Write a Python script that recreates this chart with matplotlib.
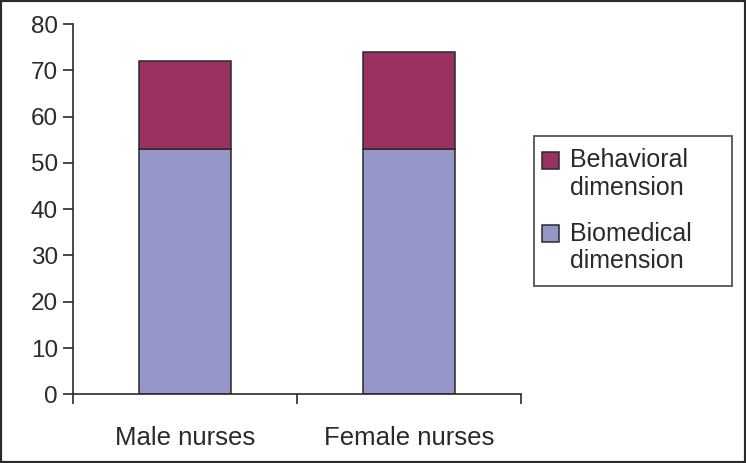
import matplotlib
matplotlib.use("Agg")
import matplotlib.pyplot as plt
from matplotlib.patches import Patch, Rectangle
from matplotlib.legend_handler import HandlerBase

plt.rcParams['font.family'] = ['Liberation Sans', 'DejaVu Sans']

categories = ["Male nurses", "Female nurses"]
biomedical = [53, 53]
behavioral = [19, 21]
series_names = ["Behavioral\ndimension", "Biomedical\ndimension"]
yticks = [0, 10, 20, 30, 40, 50, 60, 70, 80]

c_beh = "#9a3163"
c_bio = "#9497c8"
ink = "#2a2a2a"

W, H = 746, 463
fig = plt.figure(figsize=(W / 100, H / 100), dpi=100)
ax = fig.add_axes([73.3 / W, (H - 394.3) / H, (521 - 73.3) / W, (394.3 - 24) / H])

x = list(range(len(categories)))
ax.bar(x, biomedical, width=0.41, color=c_bio, edgecolor=ink, linewidth=1.1)
ax.bar(x, behavioral, bottom=biomedical, width=0.41, color=c_beh, edgecolor=ink, linewidth=1.1)

ax.set_xlim(-0.5, 1.5)
ax.set_ylim(0, 80)
ax.set_yticks(yticks)
ax.set_yticklabels([str(v) for v in yticks], fontsize=17.5, color=ink)
ax.set_xticks(x)
ax.set_xticklabels(categories, fontsize=18.5, color=ink)
ax.tick_params(axis='x', which='major', length=0, pad=23)
ax.set_xticks([-0.5, 0.5, 1.5], minor=True)
ax.tick_params(axis='x', which='minor', length=7, direction='out', width=1.2, color=ink)
ax.tick_params(axis='y', length=7, width=1.2, direction='out', color=ink, pad=4)
for s in ['top', 'right']:
    ax.spines[s].set_visible(False)
for s in ['left', 'bottom']:
    ax.spines[s].set_linewidth(1.2)
    ax.spines[s].set_color(ink)


class TopSquare(HandlerBase):
    """Square legend key aligned with the first line of a two-line label."""
    def __init__(self, lift, size, xshift, **kw):
        super().__init__(**kw)
        self.lift, self.size, self.xshift = lift, size, xshift

    def create_artists(self, legend, orig_handle, xdescent, ydescent,
                       width, height, fontsize, trans):
        r = Rectangle((-xdescent + self.xshift, self.lift), self.size, self.size,
                      facecolor=orig_handle.get_facecolor(),
                      edgecolor=orig_handle.get_edgecolor(), linewidth=1.1,
                      transform=trans)
        return [r]


handles = [Patch(facecolor=c_beh, edgecolor=ink), Patch(facecolor=c_bio, edgecolor=ink)]
hm = {h: TopSquare(lift=10.5, size=12.3, xshift=-3.5) for h in handles}
leg = fig.legend(handles, series_names, handler_map=hm,
                 loc='upper left', bbox_to_anchor=(534 / W, (H - 283) / H, 198 / W, 147 / H),
                 mode='expand', borderaxespad=0,
                 fontsize=18, frameon=True, fancybox=False, edgecolor=ink,
                 handlelength=0.55, handleheight=0.7, handletextpad=0.4, labelspacing=0.85,
                 borderpad=0.5, labelcolor=ink)
leg.get_frame().set_linewidth(1.3)
for t in leg.get_texts():
    t.set_linespacing(1.2)

fig.patches.append(Rectangle((0, 0), 1, 1, transform=fig.transFigure, fill=False,
                             edgecolor=ink, linewidth=3))

fig.savefig("out.png", dpi=100)
